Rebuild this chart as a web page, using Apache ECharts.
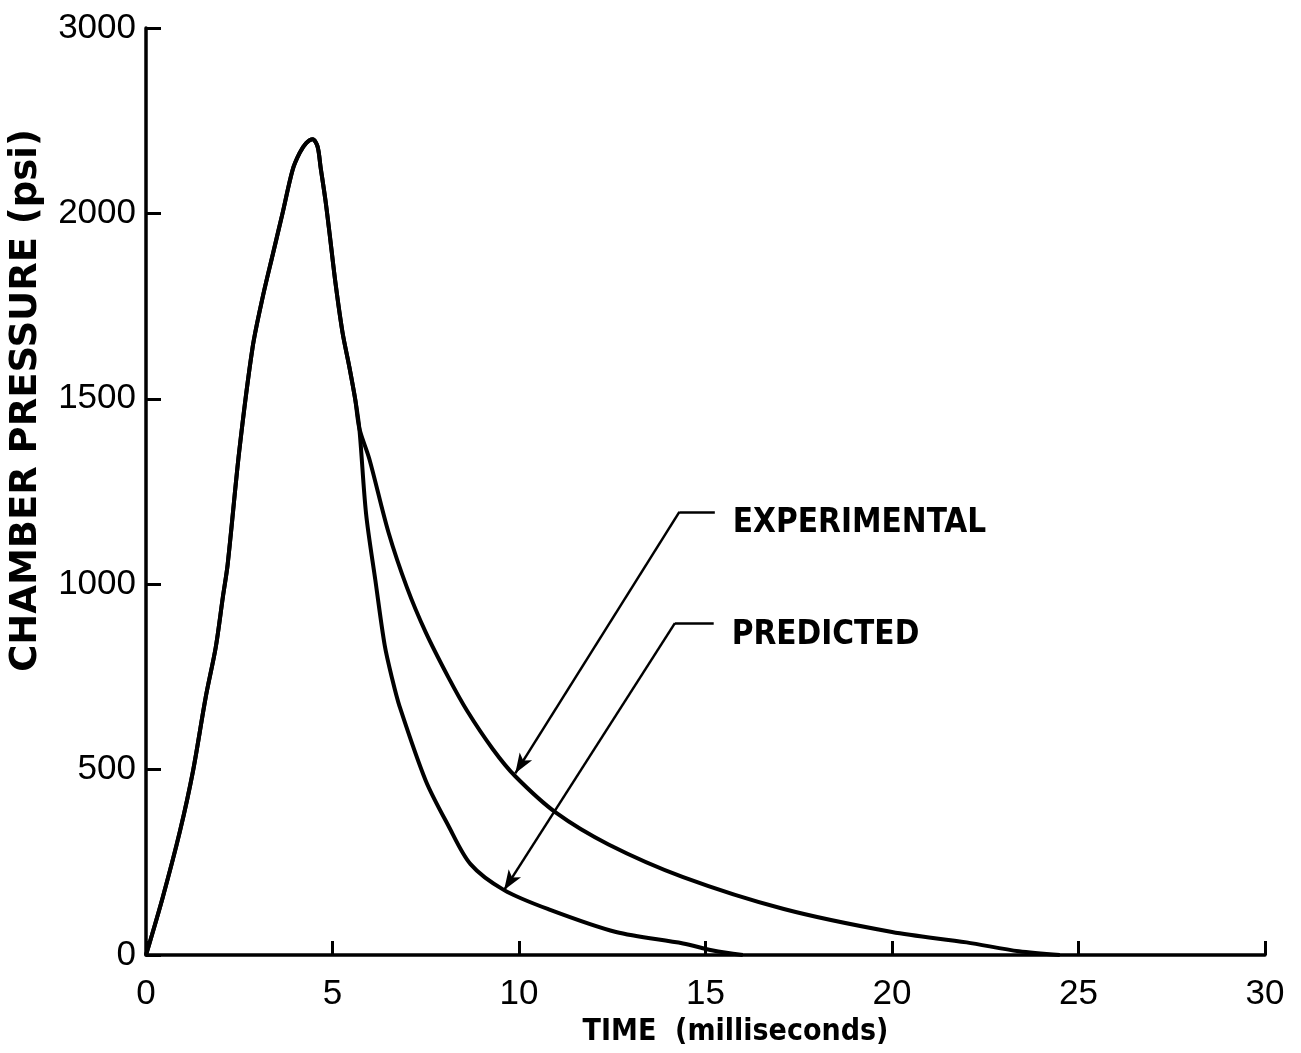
<!DOCTYPE html>
<html>
<head>
<meta charset="utf-8">
<script src="https://cdn.jsdelivr.net/npm/echarts@6/dist/echarts.min.js"></script>
<style>
  html, body { margin: 0; padding: 0; background: #fff; }
  #chart { width: 1301px; height: 1053px; }
</style>
</head>
<body>
<div id="chart"></div>
<script>
// shared rise (both curves lie on top of each other until ~5.7 ms)
const riseTime = [0, 0.45, 0.91, 1.26, 1.6, 1.87, 2.06, 2.19, 2.5, 2.86, 3.13, 3.4, 3.66, 3.93, 4.12, 4.3, 4.47, 4.6, 4.68, 4.81, 4.92, 5.08, 5.27, 5.45, 5.61, 5.72]
const risePsi = [0, 156, 334, 496, 695, 830, 965, 1054, 1359, 1640, 1775, 1890, 2000, 2117, 2163, 2190, 2200, 2180, 2125, 2036, 1947, 1812, 1678, 1587, 1498, 1420]

const experimentalTime = [5.99, 6.5, 7.0, 7.5, 8.1, 8.6, 9.3, 9.9, 11, 12.4, 14.4, 17.1, 20, 22, 23.4, 24.5]
const experimentalPsi = [1337, 1140, 990, 870, 750, 660, 555, 482, 383, 298, 210, 124, 62, 34, 10, 0]

const predictedTime = [5.9, 6.15, 6.4, 6.6, 6.8, 7.5, 8.1, 8.7, 9.6, 10.8, 12.6, 14.4, 15.2, 16]
const predictedPsi = [1190, 1010, 835, 745, 670, 470, 350, 245, 175, 123, 62, 31, 12, 0]

const yTickLabels = ['0', '500', '1000', '1500', '2000', '3000']
const xTickLabels = ['0', '5', '10', '15', '20', '25', '30']

// leader lines for the two callouts: [labelEnd, elbow, arrowTip]
const experimentalLeader = [[15.25, 1195], [14.3, 1195], [9.9, 490]]
const predictedLeader = [[15.22, 895], [14.18, 895], [9.6, 175]]

const pairs = (xs, ys) => xs.map((x, i) => [x, ys[i]])
const riseData = pairs(riseTime, risePsi)

const ink = '#000'
const narrow = '"Liberation Sans Narrow", "DejaVu Sans Condensed", sans-serif'

function leader(points, text) {
    return {
        silent: true,
        symbol: ['none', 'none'],
        lineStyle: { color: ink, width: 2.5, type: 'solid' },
        label: { show: false },
        data: [
            [
                { coord: points[0], label: { show: true, position: 'start', formatter: text, distance: 18,
                    offset: [0, 12],
                    color: ink, fontFamily: narrow, fontWeight: 'bold', fontSize: 33 } },
                { coord: points[1] }
            ],
            [
                { coord: points[1] },
                { coord: points[2], symbol: 'arrow', symbolSize: [11, 20] }
            ]
        ]
    }
}

let chart = echarts.init(document.getElementById('chart'))
chart.setOption({
    backgroundColor: '#fff',
    animation: false,
    grid: { left: 143, right: 36, top: 28, bottom: 98 },
    xAxis: {
        type: 'value',
        min: 0,
        max: 30,
        interval: 5,
        name: 'TIME  (milliseconds)',
        nameLocation: 'middle',
        nameGap: 60,
        nameTextStyle: { color: ink, fontFamily: narrow, fontWeight: 'bold', fontSize: 30,
            padding: [0, 0, 0, 60] },
        axisLine: { lineStyle: { color: ink, width: 3.5 } },
        axisTick: { inside: true, length: 14, lineStyle: { color: ink, width: 3 } },
        axisLabel: {
            color: ink, fontFamily: '"Liberation Sans", Arial, sans-serif', fontSize: 35, margin: 22,
            formatter: v => xTickLabels[v / 5]
        },
        splitLine: { show: false }
    },
    yAxis: {
        type: 'value',
        min: 0,
        max: 2500,
        interval: 500,
        name: 'CHAMBER PRESSURE (psi)',
        nameLocation: 'middle',
        nameRotate: 90,
        nameGap: 101,
        nameTextStyle: { color: ink, fontFamily: '"DejaVu Sans", sans-serif', fontWeight: 'bold', fontSize: 37,
            padding: [0, 0, 0, 182] },
        axisLine: { lineStyle: { color: ink, width: 3.5 } },
        axisTick: { inside: true, length: 15, lineStyle: { color: ink, width: 3 } },
        axisLabel: {
            color: ink, fontFamily: '"Liberation Sans", Arial, sans-serif', fontSize: 35, margin: 10,
            formatter: v => yTickLabels[v / 500]
        },
        splitLine: { show: false }
    },
    series: [
        {
            name: 'EXPERIMENTAL',
            type: 'line',
            smooth: 0.3,
            showSymbol: false,
            lineStyle: { color: ink, width: 4 },
            data: riseData.concat(pairs(experimentalTime, experimentalPsi)),
            markLine: leader(experimentalLeader, 'EXPERIMENTAL')
        },
        {
            name: 'PREDICTED',
            type: 'line',
            smooth: 0.3,
            showSymbol: false,
            lineStyle: { color: ink, width: 4 },
            data: riseData.concat(pairs(predictedTime, predictedPsi)),
            markLine: leader(predictedLeader, 'PREDICTED')
        }
    ]
})
</script>
</body>
</html>
